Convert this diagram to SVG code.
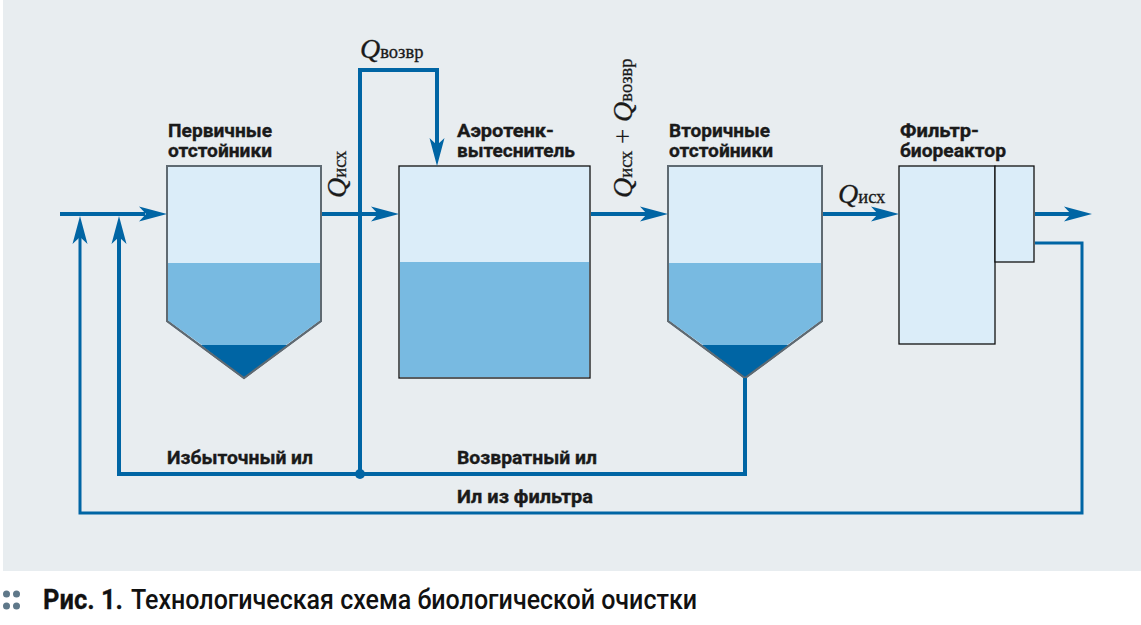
<svg xmlns="http://www.w3.org/2000/svg" width="1141" height="625" viewBox="0 0 1141 625">
<style>
.t{font-family:"Roboto","Liberation Sans",sans-serif;font-weight:700;font-size:18px;fill:#1a1a1a;stroke:#1a1a1a;stroke-width:.35}
.q{font-family:"Liberation Serif",serif;font-style:italic;font-size:28px;fill:#1a1a1a;stroke:#1a1a1a;stroke-width:.3}
.s{font-family:"Liberation Serif",serif;font-size:18.500px;fill:#1a1a1a;stroke:#1a1a1a;stroke-width:.3}
.p{font-family:"Liberation Serif",serif;font-size:27px;fill:#1a1a1a}
.box{fill:#dbedf9;stroke:#111;stroke-width:1.3}
.boxg{fill:#dbedf9;stroke:#5f6a72;stroke-width:2}
.mid{fill:#78bae1}
.dark{fill:#0065a4}
.thick{fill:none;stroke:#0065a4;stroke-width:4}
.thin{fill:none;stroke:#0065a4;stroke-width:3}
.head{fill:#0065a4}
</style>
<defs>
<path id="ah" d="M0 0L-28 -7.500L-21 0L-28 7.500Z" class="head"/>
<path id="av" d="M0 0L-7.500 28L0 21L7.500 28Z" class="head"/>
</defs>
<rect x="3" y="0" width="1138" height="571" fill="#e8edf0"/>

<g id="primary">
<path class="boxg" d="M167 166H321V321L244 378L167 321Z"/>
<path class="mid" d="M168 263H320V320.500L286 345H202L168 320.500Z"/>
<path class="dark" d="M201 345H288L244 378Z"/>
<path d="M167 166H321V321L244 378L167 321Z" fill="none" stroke="#5f6a72" stroke-width="2"/>
<text class="t" x="168" y="137" textLength="104" lengthAdjust="spacingAndGlyphs">Первичные</text>
<text class="t" x="168" y="156.500" textLength="104" lengthAdjust="spacingAndGlyphs">отстойники</text>
</g>
<g id="aerotank">
<rect class="box" x="399" y="166" width="191" height="212"/>
<rect class="mid" x="400" y="262" width="189" height="115"/>
<text class="t" x="457" y="137" textLength="97" lengthAdjust="spacingAndGlyphs">Аэротенк-</text>
<text class="t" x="457" y="156.500" textLength="118" lengthAdjust="spacingAndGlyphs">вытеснитель</text>
</g>
<g id="secondary">
<path class="boxg" d="M668 166H822V321L745 378L668 321Z"/>
<path class="mid" d="M669 263H821V320.500L787 345H703L669 320.500Z"/>
<path class="dark" d="M702 345H789L745 378Z"/>
<path d="M668 166H822V321L745 378L668 321Z" fill="none" stroke="#5f6a72" stroke-width="2"/>
<text class="t" x="669" y="137" textLength="101" lengthAdjust="spacingAndGlyphs">Вторичные</text>
<text class="t" x="669" y="156.500" textLength="104" lengthAdjust="spacingAndGlyphs">отстойники</text>
</g>
<g id="bioreactor">
<rect class="box" x="899" y="166" width="96" height="178"/>
<rect class="box" x="995" y="166" width="39" height="96"/>
<text class="t" x="900" y="137" textLength="79" lengthAdjust="spacingAndGlyphs">Фильтр-</text>
<text class="t" x="900" y="156.500" textLength="106" lengthAdjust="spacingAndGlyphs">биореактор</text>
</g>

<g id="connectors">
<path class="thick" d="M60 214H145"/><use href="#ah" x="167" y="214"/>
<path class="thick" d="M322 214H378"/><use href="#ah" x="399" y="214"/>
<path class="thick" d="M591 214H647"/><use href="#ah" x="668" y="214"/>
<path class="thick" d="M823 214H878"/><use href="#ah" x="899" y="214"/>
<path class="thick" d="M1035 214H1071"/><use href="#ah" x="1092" y="214"/>
<path class="thick" d="M360 474V70H437V145"/><use href="#av" transform="translate(437 166) rotate(180)"/>
<path class="thick" d="M745 378V474H119V237"/><use href="#av" x="119" y="216"/>
<path class="thin" d="M1035 243H1082V513H80V237"/><use href="#av" x="80" y="216"/>
<circle cx="360" cy="474" r="5" class="head"/>
</g>

<g id="labels">
<text x="360" y="58"><tspan class="q">Q</tspan><tspan class="s">возвр</tspan></text>
<text transform="translate(346 198) rotate(-90)"><tspan class="q">Q</tspan><tspan class="s">исх</tspan></text>
<text transform="translate(632 198) rotate(-90)"><tspan class="q">Q</tspan><tspan class="s">исх</tspan><tspan class="p"> + </tspan><tspan class="q">Q</tspan><tspan class="s">возвр</tspan></text>
<text x="838" y="203"><tspan class="q">Q</tspan><tspan class="s">исх</tspan></text>
<text class="t" x="167" y="464" textLength="146" lengthAdjust="spacingAndGlyphs">Избыточный ил</text>
<text class="t" x="457" y="464" textLength="140" lengthAdjust="spacingAndGlyphs">Возвратный ил</text>
<text class="t" x="457" y="503" textLength="136" lengthAdjust="spacingAndGlyphs">Ил из фильтра</text>
</g>

<g id="caption">
<circle cx="6.500" cy="594" r="3.500" fill="#5f7889"/><circle cx="16.500" cy="594" r="3.500" fill="#5f7889"/>
<circle cx="6.500" cy="606" r="3.500" fill="#5f7889"/><circle cx="16.500" cy="606" r="3.500" fill="#5f7889"/>
<text x="43" y="609" font-family="Roboto,'Liberation Sans',sans-serif" font-weight="700" font-size="27" fill="#111" stroke="#111" stroke-width=".3" textLength="80" lengthAdjust="spacingAndGlyphs">Рис. 1.</text>
<text x="131" y="609" font-family="Roboto,'Liberation Sans',sans-serif" font-weight="500" font-size="27" fill="#111" textLength="566" lengthAdjust="spacingAndGlyphs">Технологическая схема биологической очистки</text>
</g>
</svg>
